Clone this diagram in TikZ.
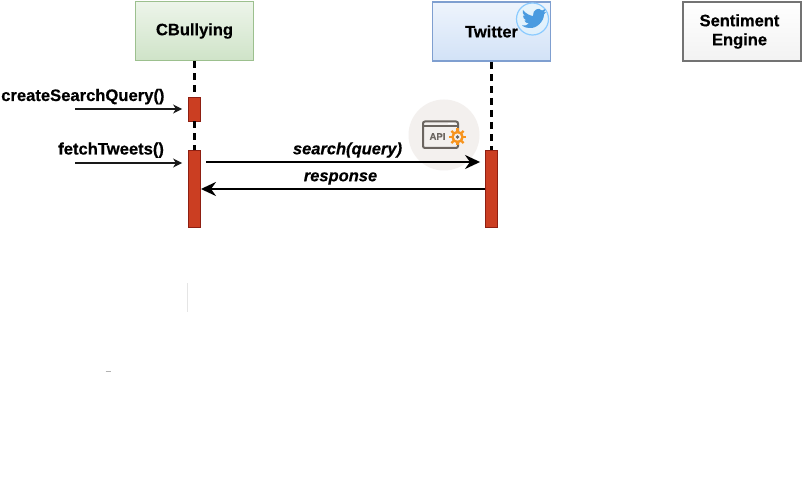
\documentclass[tikz,border=0pt]{standalone}
\usepackage{fontspec}
\setmainfont[BoldFeatures={FakeBold=0.5},BoldItalicFeatures={FakeBold=0.5}]{Liberation Sans}
\usetikzlibrary{arrows.meta,calc}
\definecolor{actfill}{HTML}{CB3E22}
\definecolor{actline}{HTML}{8E1F12}
\definecolor{apibg}{HTML}{F3F0EE}
\definecolor{apigray}{HTML}{6B6560}
\definecolor{apiorange}{HTML}{F7941E}
\definecolor{birdblue}{HTML}{4A9BE0}
\definecolor{cbtop}{HTML}{EDF5EA}
\definecolor{cbbot}{HTML}{CFE3C8}
\definecolor{cbline}{HTML}{9CC08E}
\definecolor{twtop}{HTML}{EEF4FC}
\definecolor{twbot}{HTML}{D2E2F7}
\definecolor{twline}{HTML}{7F9FD0}
\tikzset{
  x=1pt,y=-1pt,
  head/.style={line width=1.8pt,minimum width=118pt,minimum height=59pt,inner sep=0pt,align=center,
    font=\bfseries\fontsize{16.5}{19}\selectfont},
  activation/.style={draw=actline,line width=0.9pt,fill=actfill,minimum width=12pt,inner sep=0pt},
  lifeline/.style={line width=2.4pt,dash pattern=on 7pt off 5pt},
  thinmsg/.style={draw=black!90,line width=1.1pt,-{Stealth[length=9pt,width=9pt]}},
  msg/.style={line width=2.2pt,-{Stealth[length=15pt,width=14pt]}},
  msglabel/.style={font=\bfseries\fontsize{16.6}{19}\selectfont,inner sep=0pt},
  msgitalic/.style={font=\bfseries\itshape\fontsize{16.5}{19}\selectfont,inner sep=0pt},
}
\begin{document}
\begin{tikzpicture}
\useasboundingbox (0,0) rectangle (804,492);
\fill[white] (0,0) rectangle (804,492);
% heads
\node[head,top color=cbtop,bottom color=cbbot,draw=cbline] (cb) at (194.5,31) {CBullying};
\node[head,top color=twtop,bottom color=twbot,draw=twline] (tw) at (491.5,31.5) {Twitter};
\node[head,top color=white,bottom color=black!5,draw=black!55,text width=118pt] (se) at (742,31.5) {\hspace*{-5pt}Sentiment\\\hspace*{-5pt}Engine};
% activations
\node[activation,minimum height=24pt] (a1) at (194.5,109) {};
\node[activation,minimum height=77pt] (a2) at (194.5,188.5) {};
\node[activation,minimum height=77pt] (a3) at (491.5,189) {};
% lifelines
\draw[lifeline] (cb.south) -- (a1.north);
\draw[lifeline] (a1.south) -- (a2.north);
\draw[lifeline] (tw.south) -- (a3.north);
% API icon
\fill[apibg] (444,135) circle (35.5);
\draw[draw=apigray,line width=2pt,rounded corners=2pt] (423,121.5) rectangle (458,148);
\draw[apigray,line width=2pt] (423,126) -- (458,126);
\draw[white,line width=1pt] (448,123.7) -- (454,123.7);
\node[font=\bfseries\fontsize{9.5}{10}\selectfont,text=apigray,inner sep=0pt] (api) at (437.5,136.5) {API};
\fill[apiorange] (457.5,137) circle (6);
\foreach \a in {0,45,...,315}{\draw[apiorange,line width=2.4pt] (457.5,137) -- ++(\a:8.5);}
\fill[apibg] (457.5,137) circle (3.6);
\fill[apigray] (457.5,137) circle (1.8);
% messages
\coordinate (m1s) at (75,109);
\coordinate (m2s) at (75,163);
\coordinate (m3s) at (206,162);
\coordinate (m3e) at (a3.west|-m3s);
\coordinate (m4s) at (a3.west|-0,189);
\coordinate (m4e) at (a2.east|-0,189);
\coordinate (m1e) at ($(a1.west|-m1s)+(-6,0)$);
\coordinate (m2e) at ($(a2.west|-m2s)+(-6,0)$);
\draw[thinmsg] (m1s) -- (m1e);
\draw[thinmsg] (m2s) -- (m2e);
\draw[msg] (m3s) -- ($(m3e)+(-5,0)$);
\draw[msg] (m4s) -- (m4e);
% labels
\node[msglabel,anchor=base west] (l1) at (1,101) {createSearchQuery()};
\node[msglabel,anchor=base west] (l2) at (58,154.5) {fetchTweets()};
\node[msgitalic] (l3) at (347.5,150) {search(query)};
\node[msgitalic] (l4) at (340.5,178.5) {response};
% twitter badge
\fill[blue!25!cyan!12!white,fill opacity=.45] (532.5,19) circle (16);
\draw[blue!45!cyan!45!white,line width=1.2pt] (532.5,19) circle (16);
\fill[birdblue] (523,10)
 .. controls (526,14) and (530,15.5) .. (533,16)
 .. controls (532.5,10) and (538.5,6.5) .. (542,10.5)
 -- (545.5,9) -- (544,12.5) -- (546,12)-- (544,14.5)
 .. controls (544,21) and (537,29) .. (529,28)
 .. controls (526,28) and (524,27) .. (522,25.5)
 .. controls (525,26) and (527,25) .. (529,23.5)
 .. controls (526.5,23.5) and (525,22) .. (524.5,20.5)
 -- (526.5,20.5)
 .. controls (524,19.5) and (523,17.5) .. (523,15.5)
 -- (525,16.2)
 .. controls (522.8,14.5) and (522.3,12) .. (523,10) -- cycle;
% faint marks
\draw[black!10,line width=.8pt] (187.5,283) -- (187.5,312);
\draw[black!30,line width=.7pt] (105.5,371.5) -- (110.5,371.5);
\end{tikzpicture}
\end{document}
